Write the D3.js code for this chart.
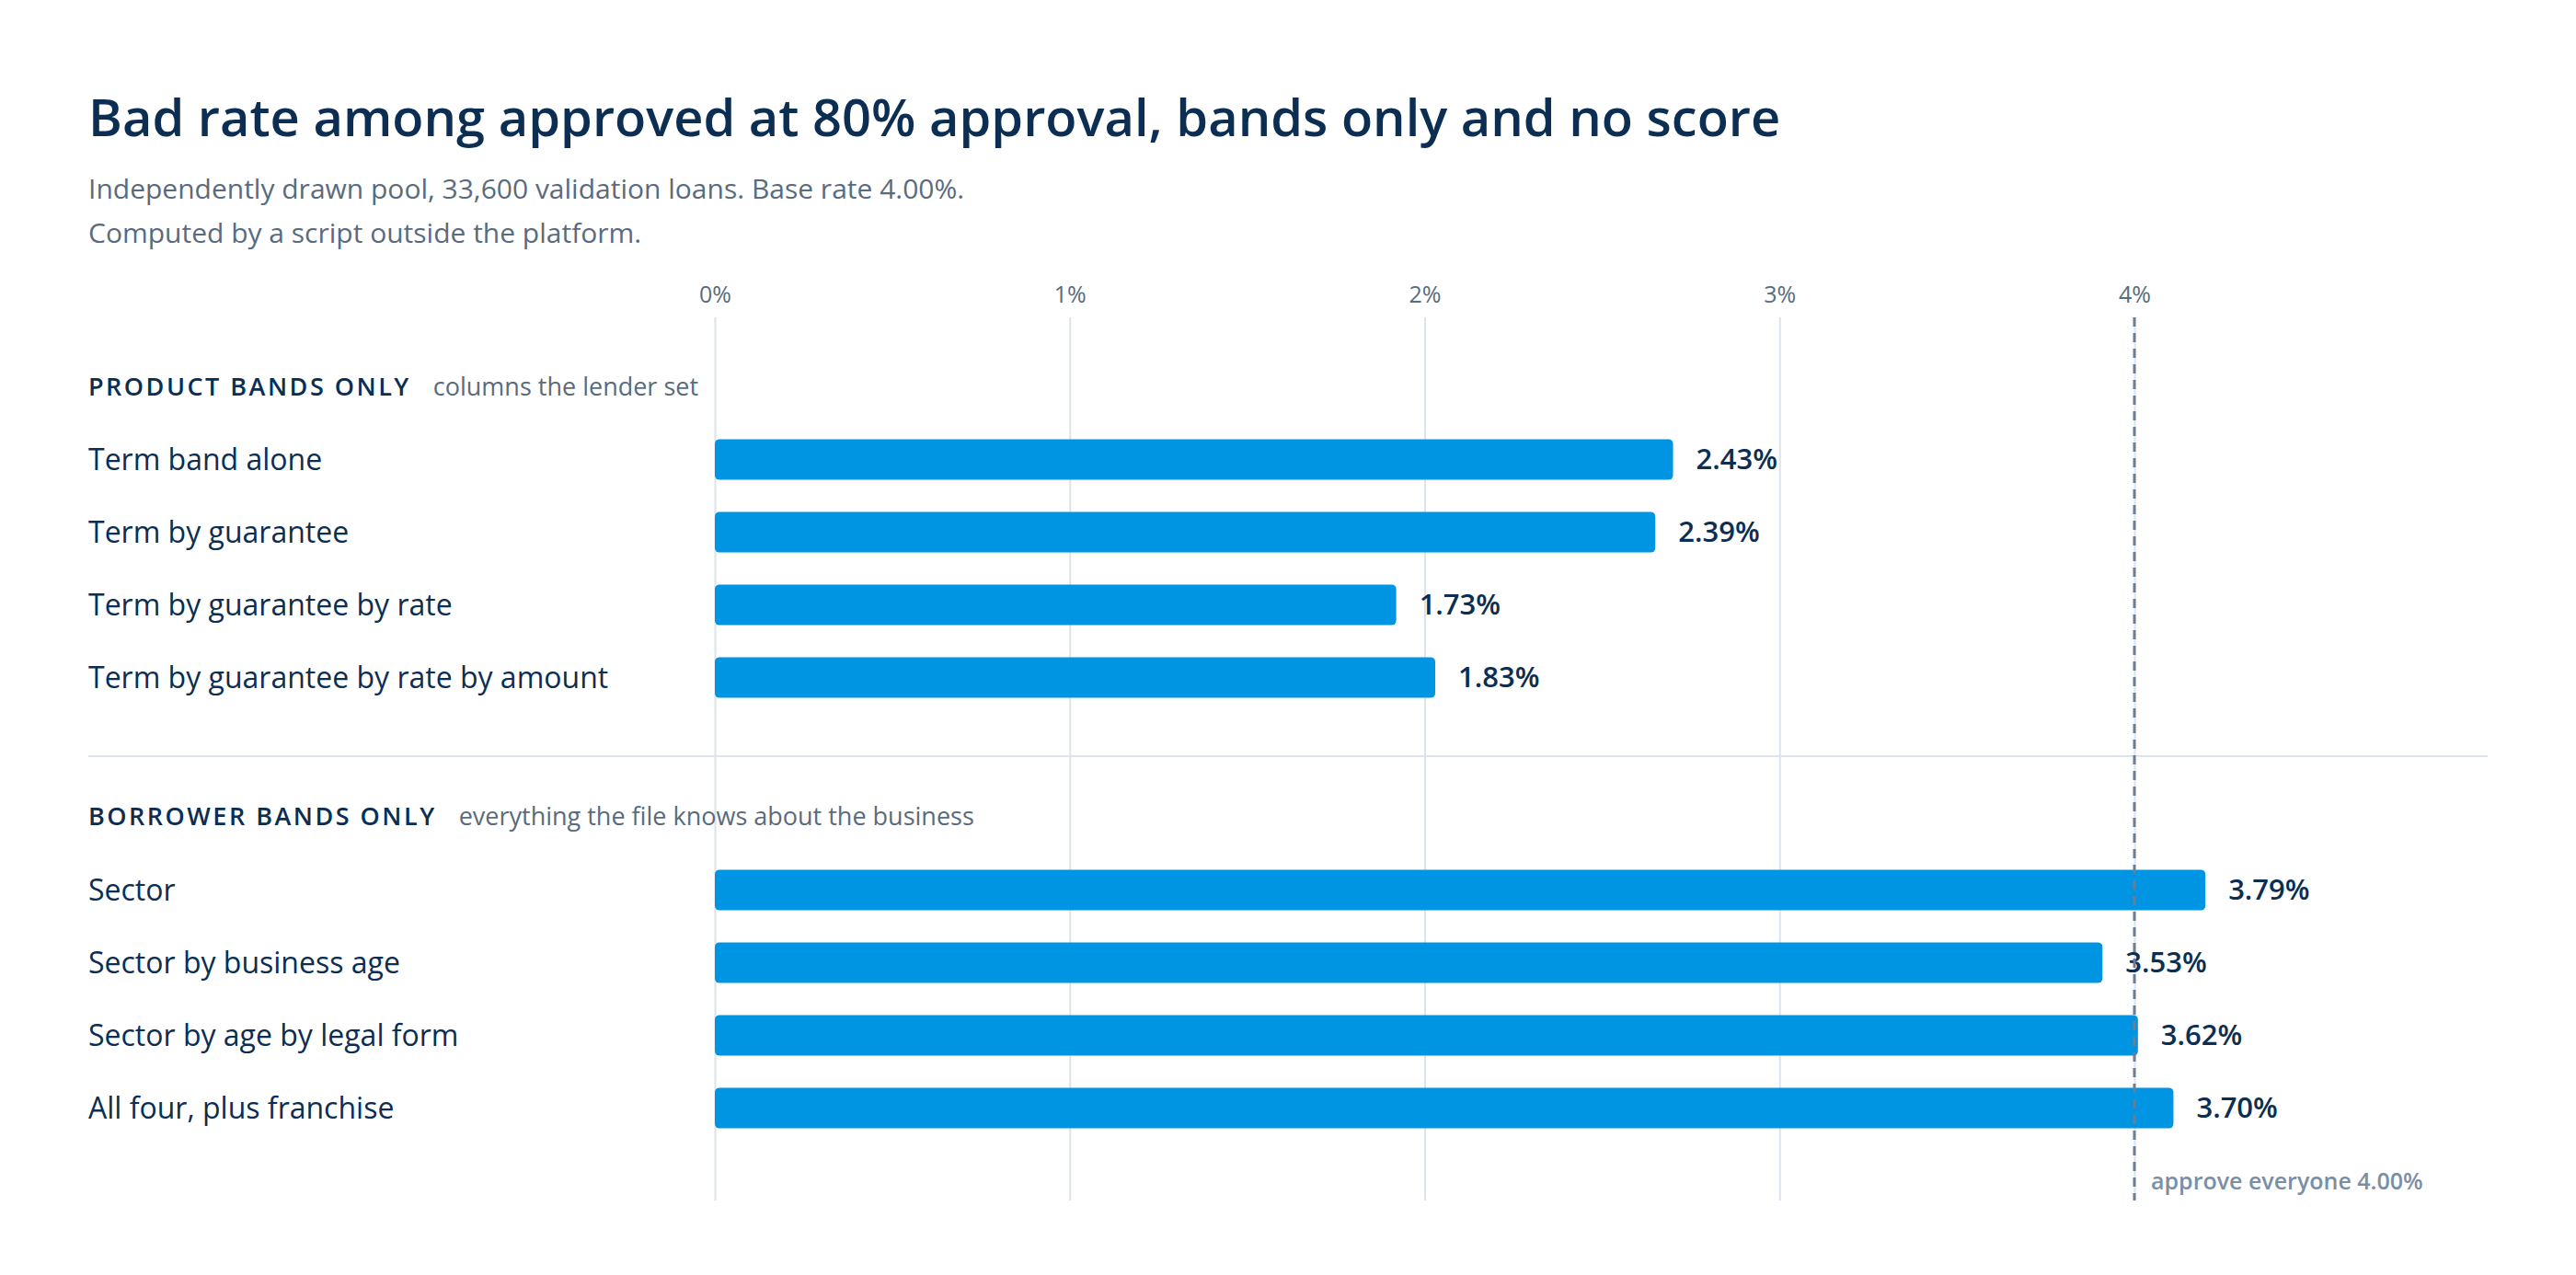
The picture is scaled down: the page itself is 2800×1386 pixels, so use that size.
<!DOCTYPE html>
<html><head><meta charset="utf-8">
<script src="https://cdn.jsdelivr.net/npm/d3@7"></script>
<style>body{margin:0;background:#fff}</style></head>
<body><svg id="c" width="2800" height="1386"></svg>
<script>
const productRows = ["Term band alone","Term by guarantee","Term by guarantee by rate","Term by guarantee by rate by amount"];
const productLabels = [2.43, 2.39, 1.73, 1.83];
const productBars = [2.70, 2.65, 1.92, 2.03];
const borrowerRows = ["Sector","Sector by business age","Sector by age by legal form","All four, plus franchise"];
const borrowerLabels = [3.79, 3.53, 3.62, 3.70];
const borrowerBars = [4.20, 3.91, 4.01, 4.11];
const ticks = [0,1,2,3,4];
const baseRate = 4.00;

const svg = d3.select("#c");
const F = "'Open Sans','Noto Sans',sans-serif";
const dark = "#0b2e52", gray = "#5a6b7d", blue = "#0095e3";
const x = d3.scaleLinear().domain([0,4]).range([777,2320]);

svg.append("text").attr("x",96).attr("y",148).attr("font-family",F).attr("font-size",56).attr("font-weight",600).attr("fill",dark)
  .text("Bad rate among approved at 80% approval, bands only and no score");
svg.append("text").attr("x",96).attr("y",216).attr("font-family",F).attr("font-size",30).attr("fill",gray)
  .text("Independently drawn pool, 33,600 validation loans. Base rate 4.00%.");
svg.append("text").attr("x",96).attr("y",264).attr("font-family",F).attr("font-size",30).attr("fill",gray)
  .text("Computed by a script outside the platform.");

const ax = svg.append("g").attr("transform","translate(0,345)")
  .call(d3.axisTop(x).tickValues(ticks).tickFormat(d=>d+"%").tickSize(-960).tickPadding(16));
ax.select(".domain").remove();
ax.selectAll("line").attr("stroke","#dde3ea").attr("stroke-width",2);
ax.selectAll("text").attr("font-family",F).attr("font-size",25).attr("fill",gray);

svg.append("line").attr("x1",96).attr("x2",2704).attr("y1",822).attr("y2",822).attr("stroke","#dde3ea").attr("stroke-width",2);

function section(title, sub, headY, rows, bars, labels, ys){
  const t = svg.append("text").attr("x",96).attr("y",headY).attr("font-family",F);
  t.append("tspan").attr("font-size",27).attr("font-weight",600).attr("letter-spacing",2.5).attr("fill",dark).text(title);
  t.append("tspan").attr("dx",24).attr("font-size",27).attr("fill",gray).text(sub);
  const y = d3.scaleBand().domain(rows).range(ys).paddingInner(0.44).paddingOuter(0.22);
  const g = svg.append("g");
  rows.forEach((r,i)=>{
    const cy = y(r)+y.bandwidth()/2;
    g.append("text").attr("x",96).attr("y",cy).attr("dy","0.35em").attr("font-family",F).attr("font-size",32).attr("fill",dark).text(r);
    g.append("rect").attr("x",x(0)).attr("y",y(r)).attr("width",x(bars[i])-x(0)).attr("height",y.bandwidth()).attr("rx",5).attr("fill",blue);
    g.append("text").attr("x",x(bars[i])+25).attr("y",cy).attr("dy","0.35em").attr("font-family",F).attr("font-size",31).attr("font-weight",600).attr("fill",dark).text(labels[i].toFixed(2)+"%");
  });
}
section("PRODUCT BANDS ONLY","columns the lender set",430,productRows,productBars,productLabels,[460,776]);
section("BORROWER BANDS ONLY","everything the file knows about the business",897,borrowerRows,borrowerBars,borrowerLabels,[928,1244]);

svg.append("line").attr("x1",x(baseRate)).attr("x2",x(baseRate)).attr("y1",345).attr("y2",1305)
  .attr("stroke","#6a7f95").attr("stroke-width",3).attr("stroke-dasharray","10,7");
svg.append("text").attr("x",x(baseRate)+18).attr("y",1293).attr("font-family",F).attr("font-size",25).attr("font-weight",600).attr("fill","#7a8fa6")
  .text("approve everyone 4.00%");
</script></body></html>
